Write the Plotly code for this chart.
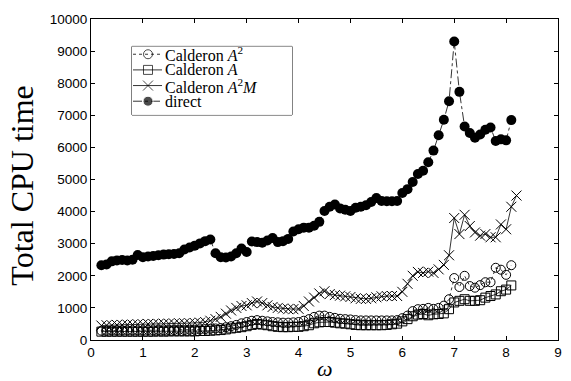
import plotly.graph_objects as go

omega = [round(0.2 + 0.1 * i, 1) for i in range(80)]
omega_a2m = [round(0.2 + 0.1 * i, 1) for i in range(81)]

direct = [2330, 2350, 2450, 2480, 2490, 2480, 2500, 2650,
          2580, 2600, 2620, 2640, 2660, 2670, 2680, 2700, 2820, 2880,
          2940, 3010, 3080, 3130, 2700, 2580, 2570, 2600, 2700, 2850,
          2740, 3070, 3050, 3030, 3100, 3180, 3050, 3080, 3150, 3380,
          3450, 3500, 3500, 3560, 3680, 4020, 4150, 4220, 4100, 4060,
          4020, 4120, 4150, 4200, 4300, 4420, 4330, 4320, 4320, 4330,
          4580, 4700, 4920, 5170, 5270, 5540, 5900, 6380, 6860, 7440,
          9300, 7730, 6650, 6450, 6300, 6400, 6550, 6620, 6200, 6250,
          6220, 6850]

calderon_a2m = [450, 460, 460, 470, 470, 480, 480, 490,
                490, 500, 500, 500, 510, 510, 510, 520, 520, 520,
                530, 540, 560, 600, 650, 720, 820, 920, 1000, 1060,
                1080, 1150, 1200, 1150, 1080, 1030, 1000, 980, 960, 960,
                970, 1060, 1200, 1320, 1450, 1520, 1430, 1400, 1380, 1360,
                1340, 1300, 1280, 1280, 1300, 1330, 1360, 1370, 1370, 1370,
                1500, 1750, 2000, 2120, 2090, 2130, 2090, 2200, 2340, 2640,
                3800, 3300, 3900, 3550, 3350, 3250, 3300, 3200, 3200, 3600,
                3450, 4150, 4500]

calderon_a2 = [290, 290, 300, 300, 300, 300, 300, 300,
               300, 310, 300, 310, 300, 310, 310, 320, 310, 320,
               320, 330, 340, 350, 360, 370, 400, 430, 470, 520,
               560, 600, 620, 600, 580, 560, 550, 540, 540, 550,
               560, 600, 650, 720, 760, 760, 720, 690, 660, 650,
               640, 620, 610, 610, 610, 610, 610, 610, 610, 620,
               680, 760, 900, 960, 970, 1000, 970, 1000, 1070, 1270,
               1930, 1650, 2000, 1680, 1630, 1710, 1800, 1800, 2250, 2190,
               2030, 2330]

calderon_a = [260, 260, 260, 260, 260, 260, 260, 260,
              260, 260, 260, 270, 260, 270, 270, 270, 270, 270,
              270, 280, 280, 290, 300, 310, 330, 360, 380, 400,
              430, 470, 500, 480, 460, 430, 410, 400, 400, 410,
              410, 430, 460, 520, 550, 560, 560, 540, 520, 510,
              490, 470, 460, 460, 460, 460, 460, 470, 490, 510,
              580, 650, 740, 790, 810, 770, 800, 810, 830, 960,
              1170, 1220, 1270, 1220, 1220, 1240, 1320, 1370, 1420, 1520,
              1570, 1700]

names = ["Calderon <i>A</i><sup>2</sup>", "Calderon <i>A</i>",
         "Calderon <i>A</i><sup>2</sup><i>M</i>", "direct"]
x_ticks = list(range(0, 10))
y_ticks = list(range(0, 10001, 1000))

series = [
    (omega, calderon_a2, dict(color="black", width=0.8, dash="dot"),
     dict(symbol="circle-open", size=9, color="black", line=dict(width=1))),
    (omega, calderon_a, dict(color="black", width=0.8),
     dict(symbol="square-open", size=9, color="black", line=dict(width=1))),
    (omega_a2m, calderon_a2m, dict(color="black", width=0.8),
     dict(symbol="x-thin-open", size=10, color="black", line=dict(width=1, color="black"))),
    (omega, direct, dict(color="black", width=0.8, dash="dashdot"),
     dict(symbol="circle", size=10, color="black")),
]

fig = go.Figure()
for name, (xs, ys, ln, mk) in zip(names, series):
    fig.add_trace(go.Scatter(x=xs, y=ys, name=name, mode="lines+markers",
                             line=ln, marker=mk, showlegend=False))

# legend drawn in a small hidden inset axis (units: pixels inside the legend box)
legend_rows = [8, 24, 40, 56]
for name, (xs, ys, ln, mk), row in zip(names, series, legend_rows):
    fig.add_trace(go.Scatter(x=[1, 16, 30], y=[row, row, row], mode="lines+markers",
                             line=ln, marker=dict(mk, size=[0, mk["size"], 0]),
                             xaxis="x2", yaxis="y2", showlegend=False, hoverinfo="skip"))

axis_common = dict(showline=True, linecolor="black", linewidth=1, mirror="ticks",
                   ticks="inside", ticklen=4, tickcolor="black", showgrid=False,
                   zeroline=False, ticklabeloverflow="allow",
                   tickfont=dict(family="Liberation Sans", size=13.5, color="black"))

fig.update_layout(
    xaxis=dict(range=[0, 9], tickvals=x_ticks, ticktext=[str(v) for v in x_ticks], **axis_common),
    yaxis=dict(range=[0, 10000], tickvals=y_ticks, ticktext=[str(v) for v in y_ticks], **axis_common),
    xaxis2=dict(domain=[0.0878, 0.4304], range=[0, 160], anchor="y2", visible=False),
    yaxis2=dict(domain=[0.7012, 0.9146], range=[70, 0], anchor="x2", visible=False),
)

annotations = [
    dict(text="Total CPU time", xref="paper", yref="paper", x=-0.147, y=0.482,
         xanchor="center", yanchor="middle", textangle=-90, showarrow=False,
         font=dict(family="Liberation Serif", size=32, color="black")),
    dict(text="<i>ω</i>", xref="paper", yref="paper", x=0.5, y=-0.09,
         xanchor="center", yanchor="middle", showarrow=False,
         font=dict(family="Liberation Serif", size=22, color="black")),
]
for name, row in zip(names, legend_rows):
    annotations.append(dict(text=name, xref="x2", yref="y2", x=31, y=row,
                            xanchor="left", yanchor="middle", showarrow=False,
                            font=dict(family="Liberation Serif", size=16, color="black")))

fig.update_layout(
    width=563, height=373,
    margin=dict(l=83, r=13, t=4, b=41),
    plot_bgcolor="white", paper_bgcolor="white",
    showlegend=False,
    shapes=[dict(type="rect", xref="paper", yref="paper", x0=0.0878, x1=0.4304,
                 y0=0.7012, y1=0.9146, line=dict(color="black", width=1),
                 fillcolor="rgba(0,0,0,0)", layer="below")],
    annotations=annotations,
)

fig.write_html("out.html")
